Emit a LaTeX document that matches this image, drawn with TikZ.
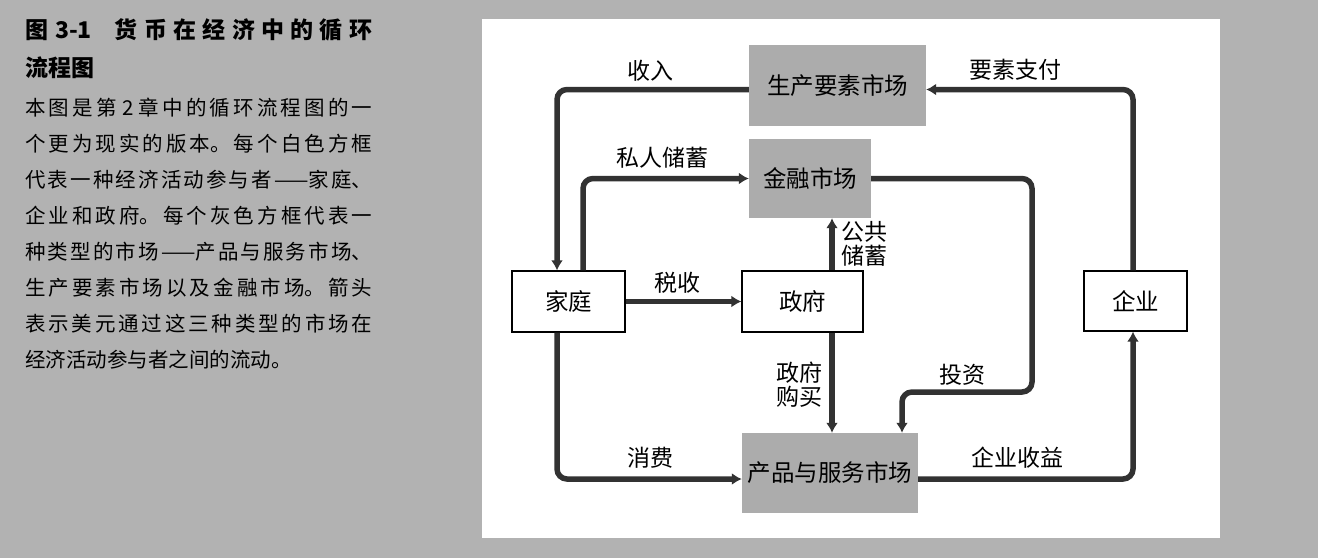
\documentclass[tikz,border=0pt]{standalone}
\usepackage{fontspec}
\setmainfont{Noto Sans CJK SC}
\XeTeXlinebreaklocale "zh"
\XeTeXlinebreakskip=0pt plus 10pt
\definecolor{pagegray}{RGB}{178,178,178}
\definecolor{mktgray}{RGB}{172,172,172}
\definecolor{flowdark}{RGB}{50,50,50}
\usetikzlibrary{arrows.meta,positioning,calc}
\tikzset{
  market/.style={fill=mktgray,inner sep=0pt,font=\fontsize{23.5}{25}\selectfont},
  actor/.style={draw=black,fill=white,line width=1.3pt,inner sep=0pt,font=\fontsize{23.5}{25}\selectfont},
  flow/.style={draw=flowdark,line width=5.5pt,rounded corners=10pt,-{Latex[length=10pt,width=12pt]}},
  lbl/.style={inner sep=0pt,align=center,font=\fontsize{23}{24}\selectfont},
  titletxt/.style={anchor=north west,inner sep=0pt,text width=347pt,align=justify,font=\bfseries\fontsize{23}{38}\selectfont},
  bodytxt/.style={anchor=north west,inner sep=0pt,text width=347pt,align=justify,font=\fontsize{20.5}{36}\selectfont}
}
\begin{document}
\begin{tikzpicture}[x=1pt,y=-1pt]
\useasboundingbox (0,0) rectangle (1318,558);
\fill[pagegray] (0,0) rectangle (1318,558);
\fill[white] (482,19) rectangle (1220,538);
% caption text
\node[titletxt] (figtitle) at (25,18) {图 3-1\quad 货币在经济中的循环\linebreak 流程图};
\node[bodytxt] (caption) at (25,98) {本图是第 2 章中的循环流程图的一\linebreak
个更为现实的版本。每个白色方框\linebreak
代表一种经济活动参与者——家庭、\linebreak
企业和政府。每个灰色方框代表一\linebreak
种类型的市场——产品与服务市场、\linebreak
生产要素市场以及金融市场。箭头\linebreak
表示美元通过这三种类型的市场在\linebreak
经济活动参与者之间的流动。};
% markets and actors
\node[market,minimum width=177pt,minimum height=81pt] (fmkt) at (837.5,85.5) {生产要素市场};
\node[market,minimum width=122pt,minimum height=79pt] (finm) at (810,178.5) {金融市场};
\node[market,minimum width=176pt,minimum height=80pt] (gsm) at (830,473) {产品与服务市场};
\node[actor,minimum width=113pt,minimum height=61pt] (hh) at (568.5,301.5) {家庭};
\node[actor,minimum width=121pt,minimum height=61pt] (gov) at (802.5,301.5) {政府};
\node[actor,minimum width=103pt,minimum height=60pt] (firm) at (1135.5,301) {企业};
% flows of money
\draw[flow] ([yshift=-4pt]fmkt.west) -| ([xshift=-11.5pt]hh.north);
\draw[flow] ([xshift=-2.5pt]firm.north) |- ([yshift=-4pt]fmkt.east);
\draw[flow] ([xshift=14.5pt]hh.north) |- (finm.west);
\coordinate (invbend) at (1032,392);
\draw[flow] (finm.east) -| (invbend) -| ([xshift=72pt]gsm.north);
\draw[flow] ([xshift=29.5pt]gov.north) -- ([xshift=29.5pt]gov.north |- finm.south);
\draw[flow] (hh.east) -- (gov.west);
\draw[flow] ([xshift=29.5pt]gov.south) -- ([xshift=29.5pt]gov.south |- gsm.north);
\draw[flow] ([xshift=-11.5pt]hh.south) |- ([yshift=-6pt]gsm.west);
\draw[flow] ([yshift=-6pt]gsm.east) -| ([xshift=-2.5pt]firm.south);
% flow labels
\node[lbl] (lincome) at (650,71) {收入};
\node[lbl] (lfactor) at (1015,70) {要素支付};
\node[lbl] (lprivsav) at (662,158) {私人储蓄};
\node[lbl] (lpubsav) at (864,244) {公共\\储蓄};
\node[lbl] (ltax) at (677,283) {税收};
\node[lbl] (lgovbuy) at (799,385) {政府\\购买};
\node[lbl] (linvest) at (962,375) {投资};
\node[lbl] (lconsume) at (650,458) {消费};
\node[lbl] (lrevenue) at (1017,458) {企业收益};
\end{tikzpicture}
\end{document}
